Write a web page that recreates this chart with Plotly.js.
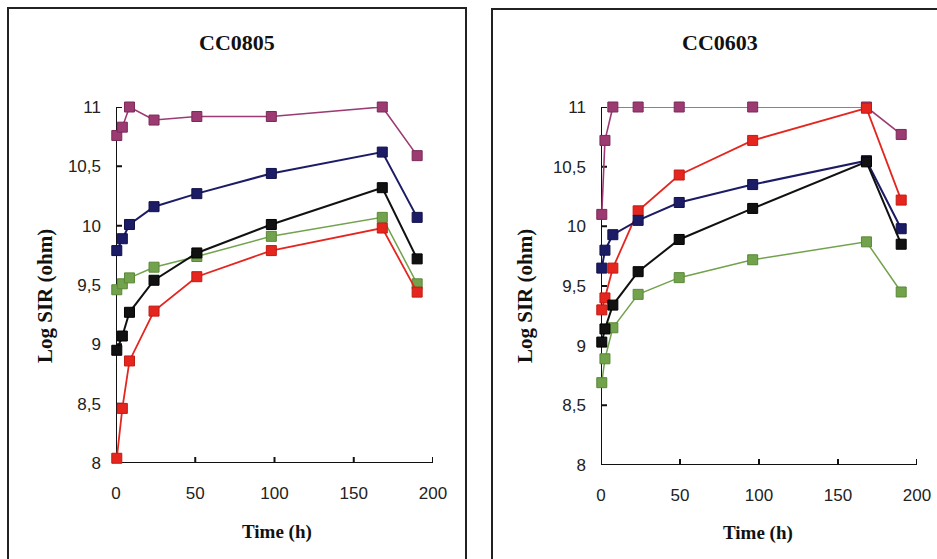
<!DOCTYPE html>
<html>
<head>
<meta charset="utf-8">
<script src="https://cdn.plot.ly/plotly-3.0.1.min.js"></script>
<style>
  html, body { margin: 0; padding: 0; background: #fff; }
  #chart { width: 937px; height: 559px; }
</style>
</head>
<body>
<div id="chart"></div>
<script>
// Sampling times (h) for each board type
const timeCC0805 = [0.5, 4, 8.5, 24, 51, 98, 168, 190];
const timeCC0603 = [0.5, 2.5, 7.5, 23.5, 49.5, 96, 168, 190];

// Log SIR (ohm) per test condition, CC0805
const cc0805Magenta = [10.76, 10.83, 11.00, 10.89, 10.92, 10.92, 11.00, 10.59];
const cc0805Navy    = [9.79, 9.89, 10.01, 10.16, 10.27, 10.44, 10.62, 10.07];
const cc0805Black   = [8.95, 9.07, 9.27, 9.54, 9.77, 10.01, 10.32, 9.72];
const cc0805Green   = [9.46, 9.51, 9.56, 9.65, 9.74, 9.91, 10.07, 9.51];
const cc0805Red     = [8.04, 8.46, 8.86, 9.28, 9.57, 9.79, 9.98, 9.44];

// Log SIR (ohm) per test condition, CC0603
const cc0603Magenta = [10.10, 10.72, 11.00, 11.00, 11.00, 11.00, 11.00, 10.77];
const cc0603Navy    = [9.65, 9.80, 9.93, 10.05, 10.20, 10.35, 10.55, 9.98];
const cc0603Black   = [9.03, 9.14, 9.34, 9.62, 9.89, 10.15, 10.54, 9.85];
const cc0603Green   = [8.69, 8.89, 9.15, 9.43, 9.57, 9.72, 9.87, 9.45];
const cc0603Red     = [9.30, 9.40, 9.65, 10.13, 10.43, 10.72, 10.99, 10.22];

// Axis ticks
const xTickVals = [0, 50, 100, 150, 200];
const xTickText = ['0', '50', '100', '150', '200'];
const yTickVals = [8, 8.5, 9, 9.5, 10, 10.5, 11];
const yTickText = ['8', '8,5', '9', '9,5', '10', '10,5', '11'];

const panelTitles = ['CC0805', 'CC0603'];
const xTitle = 'Time (h)';
const yTitle = 'Log SIR (ohm)';

const styles = {
  magenta: { color: '#9C3A72', edge: '#7A2A58', width: 1.6 },
  navy:    { color: '#1C1C66', edge: '#10104A', width: 2 },
  black:   { color: '#111111', edge: '#000000', width: 2 },
  green:   { color: '#72A24B', edge: '#5A8838', width: 1.5 },
  red:     { color: '#E4261F', edge: '#C21A14', width: 1.8 }
};

const W = 937, H = 559;
const domX1 = [116 / W, 433 / W];
const domX2 = [601 / W, 917 / W];
const domY1 = [(H - 463) / H, (H - 107) / H];
const domY2 = [(H - 465) / H, (H - 107) / H];
const xRange = [0, 200];
const yRange = [8, 11];

function series(x, y, style, xa, ya) {
  const s = styles[style];
  return {
    type: 'scatter', mode: 'lines+markers', x: x, y: y,
    xaxis: xa, yaxis: ya, cliponaxis: false, showlegend: false,
    line: { color: s.color, width: s.width },
    marker: { symbol: 'square', size: 10, color: s.color, line: { color: s.edge, width: 1 } },
    hoverinfo: 'x+y'
  };
}

// Axis frame as one unbroken polyline: runs along the time axis from its far end to the
// origin, stepping out and back across the axis at every tick, then climbs the SIR axis
// the same way. Tick half-length of 6 px is converted to axis units.
function axisFrame(xa, ya, dx, dy) {
  const hx = 6 * (xRange[1] - xRange[0]) / ((dx[1] - dx[0]) * W);
  const hy = 6 * (yRange[1] - yRange[0]) / ((dy[1] - dy[0]) * H);
  const xs = [], ys = [];
  const base = yRange[0], left = xRange[0];
  xTickVals.slice().reverse().forEach(v => {
    xs.push(v, v, v, v);
    ys.push(base, base - hy, base + hy, base);
  });
  yTickVals.forEach(v => {
    xs.push(left, left - hx, left + hx, left);
    ys.push(v, v, v, v);
  });
  return {
    type: 'scatter', mode: 'lines', x: xs, y: ys, xaxis: xa, yaxis: ya,
    cliponaxis: false, showlegend: false, hoverinfo: 'skip',
    line: { color: '#111', width: 2, simplify: false }
  };
}

const traces = [
  axisFrame('x', 'y', domX1, domY1),
  axisFrame('x2', 'y2', domX2, domY2),
  series(timeCC0805, cc0805Magenta, 'magenta', 'x', 'y'),
  series(timeCC0805, cc0805Navy, 'navy', 'x', 'y'),
  series(timeCC0805, cc0805Green, 'green', 'x', 'y'),
  series(timeCC0805, cc0805Red, 'red', 'x', 'y'),
  series(timeCC0805, cc0805Black, 'black', 'x', 'y'),
  series(timeCC0603, cc0603Magenta, 'magenta', 'x2', 'y2'),
  series(timeCC0603, cc0603Green, 'green', 'x2', 'y2'),
  series(timeCC0603, cc0603Red, 'red', 'x2', 'y2'),
  series(timeCC0603, cc0603Navy, 'navy', 'x2', 'y2'),
  series(timeCC0603, cc0603Black, 'black', 'x2', 'y2')
];

const tickFont = { family: 'Liberation Sans, Arial, sans-serif', size: 17, color: '#222' };
const titleFont = { family: 'Liberation Serif, Times New Roman, serif', size: 22, color: '#111', weight: 'bold' };
const axisTitleFont = { family: 'Liberation Serif, Times New Roman, serif', size: 19, color: '#111', weight: 'bold' };

function xAxis(domain, anchor) {
  return {
    domain: domain, anchor: anchor, range: xRange,
    showgrid: false, zeroline: false, showline: false, ticks: '',
    tickmode: 'array', tickvals: xTickVals, ticktext: xTickText,
    tickfont: tickFont, ticklabelstandoff: 18
  };
}
function yAxis(domain, anchor) {
  return {
    domain: domain, anchor: anchor, range: yRange,
    showgrid: false, zeroline: false, showline: false, ticks: '',
    tickmode: 'array', tickvals: yTickVals, ticktext: yTickText,
    tickfont: tickFont, ticklabelstandoff: 14
  };
}

const layout = {
  width: W, height: H,
  margin: { l: 0, r: 0, t: 0, b: 0 },
  paper_bgcolor: '#ffffff', plot_bgcolor: 'rgba(0,0,0,0)',
  xaxis: xAxis(domX1, 'y'),
  yaxis: yAxis(domY1, 'x'),
  xaxis2: xAxis(domX2, 'y2'),
  yaxis2: yAxis(domY2, 'x2'),
  shapes: [
    { type: 'rect', xref: 'paper', yref: 'paper', x0: 8 / W, x1: 466 / W, y0: -0.05, y1: (H - 8) / H,
      line: { color: '#222', width: 2 }, fillcolor: 'rgba(0,0,0,0)', layer: 'below' },
    { type: 'rect', xref: 'paper', yref: 'paper', x0: 492 / W, x1: 1.05, y0: -0.05, y1: (H - 9) / H,
      line: { color: '#222', width: 2 }, fillcolor: 'rgba(0,0,0,0)', layer: 'below' }
  ],
  annotations: [
    { text: panelTitles[0], xref: 'paper', yref: 'paper', x: 237 / W, y: (H - 43) / H,
      showarrow: false, font: titleFont, xanchor: 'center', yanchor: 'middle' },
    { text: panelTitles[1], xref: 'paper', yref: 'paper', x: 720 / W, y: (H - 43) / H,
      showarrow: false, font: titleFont, xanchor: 'center', yanchor: 'middle' },
    { text: xTitle, xref: 'paper', yref: 'paper', x: 277 / W, y: (H - 532) / H,
      showarrow: false, font: axisTitleFont, xanchor: 'center', yanchor: 'middle' },
    { text: xTitle, xref: 'paper', yref: 'paper', x: 758 / W, y: (H - 533) / H,
      showarrow: false, font: axisTitleFont, xanchor: 'center', yanchor: 'middle' },
    { text: yTitle, xref: 'paper', yref: 'paper', x: 45 / W, y: (H - 296) / H, textangle: -90,
      showarrow: false, font: { ...axisTitleFont, size: 21 }, xanchor: 'center', yanchor: 'middle' },
    { text: yTitle, xref: 'paper', yref: 'paper', x: 525 / W, y: (H - 296) / H, textangle: -90,
      showarrow: false, font: { ...axisTitleFont, size: 21 }, xanchor: 'center', yanchor: 'middle' }
  ]
};

Plotly.newPlot('chart', traces, layout, { displayModeBar: false });
</script>
</body>
</html>
